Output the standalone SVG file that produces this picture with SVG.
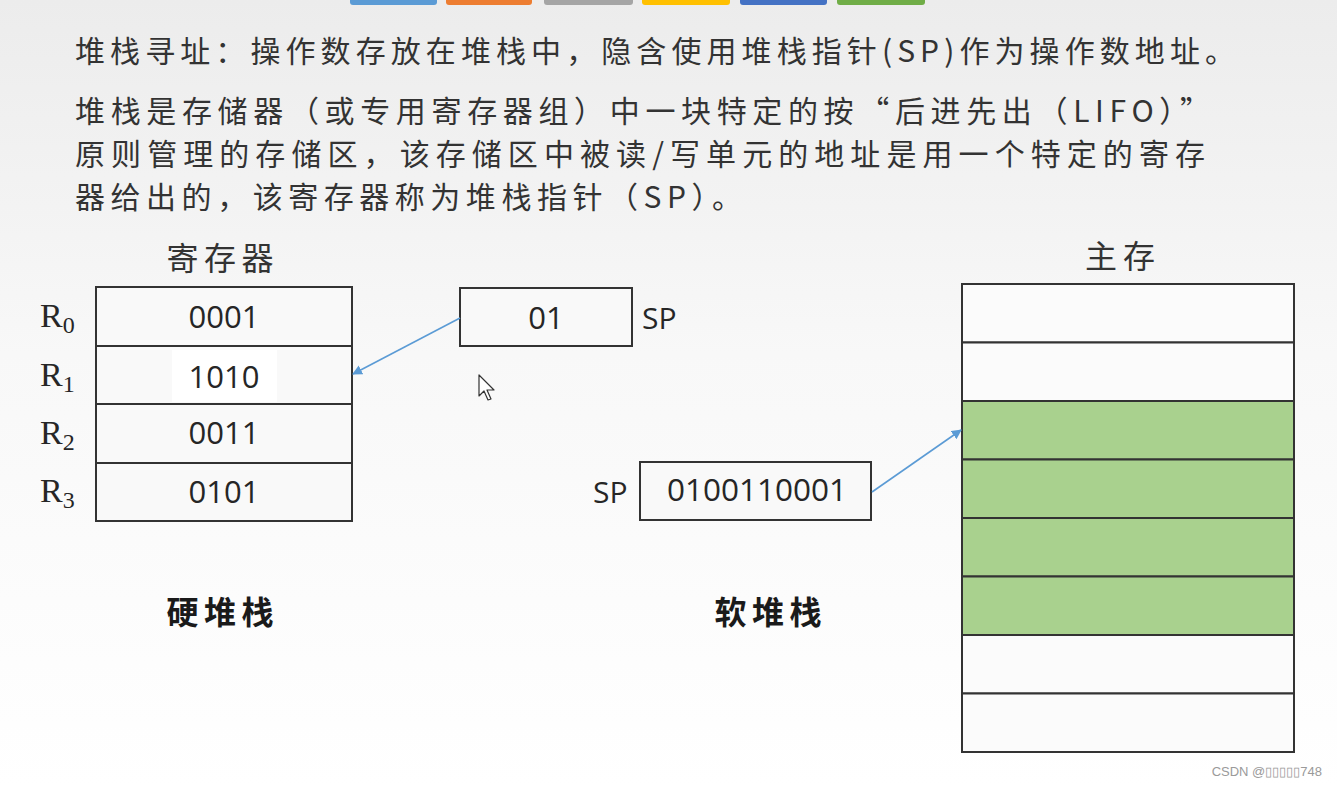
<svg xmlns="http://www.w3.org/2000/svg" width="1337" height="786" viewBox="0 0 1337 786">
<defs>
<linearGradient id="bg" x1="0" y1="0" x2="0" y2="1">
<stop offset="0" stop-color="#ececec"/>
<stop offset="0.45" stop-color="#f8f8f8"/>
<stop offset="1" stop-color="#ffffff"/>
</linearGradient>
<marker id="arr" viewBox="0 0 10 10" refX="9" refY="5" markerWidth="10" markerHeight="10" markerUnits="userSpaceOnUse" orient="auto">
<path d="M0,0 L10,5 L0,10 z" fill="#5b9bd5"/>
</marker>
<style>
.body{font-family:"Noto Sans CJK SC","Microsoft YaHei",sans-serif;font-size:30px;fill:#333333}
.lbl{font-family:"Noto Sans CJK SC",serif;font-size:32px;fill:#333333}
.bold{font-family:"Noto Sans CJK SC",sans-serif;font-size:32px;font-weight:bold;fill:#1a1a1a}
.num{font-family:"Open Sans","Liberation Sans",sans-serif;font-size:31px;fill:#262626;text-anchor:middle}
.sp{font-family:"Open Sans","Liberation Sans",sans-serif;font-size:30px;fill:#262626}
.r{font-family:"Liberation Serif",serif;font-size:34px;fill:#262626}
.box{fill:#f9f9f9;stroke:#333333;stroke-width:2}
.grn{fill:#a9d18e;stroke:#333333;stroke-width:2}
.wht{fill:#fbfbfb;stroke:#333333;stroke-width:2}
.conn{stroke:#5b9bd5;stroke-width:1.6;fill:none}
</style>
</defs>
<rect width="1337" height="786" fill="url(#bg)"/>

<g id="tabs">
<rect x="350" y="-4" width="87" height="9" rx="3" fill="#5b9bd5"/>
<rect x="446" y="-4" width="86" height="9" rx="3" fill="#ed7d31"/>
<rect x="544" y="-4" width="89" height="9" rx="3" fill="#a5a5a5"/>
<rect x="642" y="-4" width="88" height="9" rx="3" fill="#ffc000"/>
<rect x="740" y="-4" width="87" height="9" rx="3" fill="#4472c4"/>
<rect x="837" y="-4" width="88" height="9" rx="3" fill="#70ad47"/>
</g>

<g id="text-block">
<text class="body" x="75" y="62" textLength="1160" lengthAdjust="spacing">堆栈寻址：操作数存放在堆栈中，隐含使用堆栈指针(SP)作为操作数地址。</text>
<text class="body" x="75" y="122" textLength="1135" lengthAdjust="spacing">堆栈是存储器（或专用寄存器组）中一块特定的按“后进先出（LIFO）”</text>
<text class="body" x="75" y="165" textLength="1130" lengthAdjust="spacing">原则管理的存储区，该存储区中被读/写单元的地址是用一个特定的寄存</text>
<text class="body" x="75" y="208" textLength="667" lengthAdjust="spacing">器给出的，该寄存器称为堆栈指针（SP）。</text>
</g>

<g id="registers">
<text class="lbl" x="220" y="270" text-anchor="middle" textLength="107" lengthAdjust="spacing">寄存器</text>
<rect class="box" x="96" y="287" width="256" height="59"/>
<rect class="box" x="96" y="346" width="256" height="58"/>
<rect x="172" y="350" width="105" height="52" fill="#ffffff"/>
<rect class="box" x="96" y="404" width="256" height="59"/>
<rect class="box" x="96" y="463" width="256" height="58"/>
<text class="num" x="224" y="328">0001</text>
<text class="num" x="224" y="388">1010</text>
<text class="num" x="224" y="444">0011</text>
<text class="num" x="224" y="503">0101</text>
<text class="r" x="40" y="327">R<tspan font-size="24" dy="6">0</tspan></text>
<text class="r" x="40" y="386">R<tspan font-size="24" dy="6">1</tspan></text>
<text class="r" x="40" y="444">R<tspan font-size="24" dy="6">2</tspan></text>
<text class="r" x="40" y="502">R<tspan font-size="24" dy="6">3</tspan></text>
<text class="bold" x="220" y="624" text-anchor="middle" textLength="107" lengthAdjust="spacing">硬堆栈</text>
</g>

<g id="sp-hard">
<rect class="box" x="460" y="288" width="172" height="58"/>
<text class="num" x="546" y="329">01</text>
<text class="sp" x="642" y="329">SP</text>
</g>

<g id="sp-soft">
<rect class="box" x="640" y="462" width="231" height="58"/>
<text class="num" x="757" y="501" textLength="180" lengthAdjust="spacingAndGlyphs">0100110001</text>
<text class="sp" x="593" y="503">SP</text>
<text class="bold" x="768" y="624" text-anchor="middle" textLength="107" lengthAdjust="spacing">软堆栈</text>
</g>

<g id="memory">
<text class="lbl" x="1120" y="268" text-anchor="middle" textLength="70" lengthAdjust="spacing">主存</text>
<rect class="wht" x="962" y="284" width="332" height="58.5"/>
<rect class="wht" x="962" y="342.5" width="332" height="58.5"/>
<rect class="grn" x="962" y="401" width="332" height="58.5"/>
<rect class="grn" x="962" y="459.5" width="332" height="58.5"/>
<rect class="grn" x="962" y="518" width="332" height="58.5"/>
<rect class="grn" x="962" y="576.5" width="332" height="58.5"/>
<rect class="wht" x="962" y="635" width="332" height="58.5"/>
<rect class="wht" x="962" y="693.5" width="332" height="58.5"/>
</g>

<g id="connectors">
<line class="conn" x1="460" y1="318" x2="353" y2="374" marker-end="url(#arr)"/>
<line class="conn" x1="872" y1="492" x2="961" y2="430" marker-end="url(#arr)"/>
</g>

<g id="cursor">
<path d="M479,375 L479,396 L484,391 L488,400 L491,399 L487,390 L494,390 Z" fill="#ffffff" stroke="#333333" stroke-width="1.2" stroke-linejoin="round"/>
</g>

<text x="1322" y="776" text-anchor="end" font-family="Liberation Sans, sans-serif" font-size="13" fill="#9a9a9a">CSDN @▯▯▯▯▯748</text>
</svg>
